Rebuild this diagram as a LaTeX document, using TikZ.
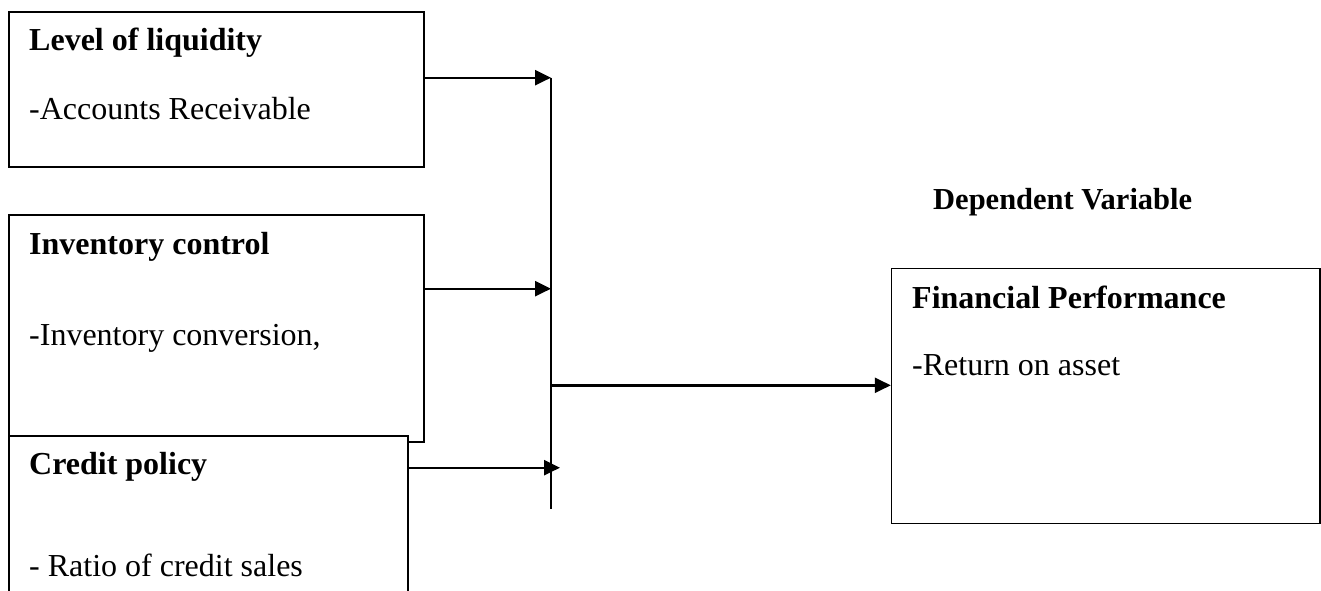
\documentclass[tikz,border=0pt]{standalone}
\usepackage{fontspec}
\setmainfont{Liberation Serif}
\usetikzlibrary{arrows.meta}
\tikzset{
  box/.style={draw=black, line width=2pt, fill=white, inner sep=0pt, anchor=north west},
  lbl/.style={anchor=base west, inner sep=0pt, font=\fontsize{32}{38}\selectfont},
  blbl/.style={lbl, font=\fontsize{32}{38}\selectfont\bfseries},
  conn/.style={draw=black, line width=2.4pt},
  arr/.style={conn, -{Triangle[length=16pt,width=15pt]}}
}
\begin{document}
\begin{tikzpicture}[x=1pt,y=-1pt]
\clip (0,0) rectangle (1321,590);
\fill[white] (0,0) rectangle (1321,590);
% boxes
\node[box, minimum width=414.5pt, minimum height=155.3pt] (b1) at (8.3,10.7) {};
\node[box, minimum width=414.5pt, minimum height=227pt] (b2) at (8.3,214) {};
\node[box, minimum width=398.7pt, minimum height=200pt] (b3) at (8.3,435) {};
\node[box, line width=1.6pt, minimum width=428.3pt, minimum height=255pt] (b4) at (890.8,267.5) {};
% texts
\node[blbl] (t1) at (29,50.7) {Level of liquidity};
\node[lbl] (s1) at (29,119) {-Accounts Receivable};
\node[blbl] (t2) at (29,254) {Inventory control};
\node[lbl] (s2) at (29,345) {-Inventory conversion,};
\node[blbl] (t3) at (29,474) {Credit policy};
\node[lbl] (s3) at (29,576) {- Ratio of credit sales};
\node[blbl] (t4) at (912,308) {Financial Performance};
\node[lbl] (s4) at (912,375) {-Return on asset};
\node[anchor=base west, inner sep=0pt, font=\fontsize{30.5}{36}\selectfont\bfseries] (dv) at (933,209) {Dependent Variable};
% connectors
\coordinate (vt) at (551,77.7);
\coordinate (vb) at (551,509);
\coordinate (v2) at (551,288.7);
\coordinate (v3) at (560,467.7);
\coordinate (v4) at (551,385.3);
\draw[conn] (vt) -- (vb);
\draw[arr] (b1.east |- vt) -- (vt);
\draw[arr] (b2.east |- v2) -- (v2);
\draw[arr] (b3.east |- v3) -- (v3);
\draw[arr] (v4) -- (b4.west |- v4);
\end{tikzpicture}
\end{document}
